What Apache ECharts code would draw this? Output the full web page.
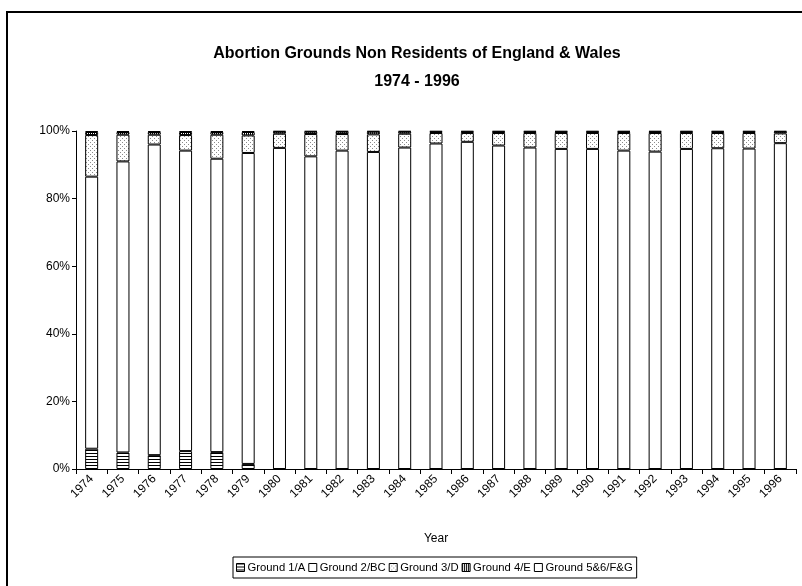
<!DOCTYPE html>
<html>
<head>
<meta charset="utf-8">
<script src="https://cdn.jsdelivr.net/npm/echarts@6/dist/echarts.min.js"></script>
<style>
  html, body { margin: 0; padding: 0; background: #fff; }
  #chart { width: 802px; height: 586px; }
</style>
</head>
<body>
<div id="chart"></div>
<script>
// data (% of each year)
var years = ['1974','1975','1976','1977','1978','1979','1980','1981','1982','1983','1984','1985',
             '1986','1987','1988','1989','1990','1991','1992','1993','1994','1995','1996'];
var ground1 = [6.0, 4.9, 4.1, 5.3, 5.0, 1.5, 0, 0, 0, 0, 0, 0, 0, 0, 0, 0, 0, 0, 0, 0, 0, 0, 0];
var ground2 = [80.5, 86.1, 91.9, 88.9, 86.8, 92.0, 95.0, 92.5, 94.2, 93.8, 95.1, 96.3,
               96.8, 95.7, 95.1, 94.7, 94.7, 94.2, 93.9, 94.7, 94.9, 94.8, 96.4];
var ground3 = [12.3, 7.9, 2.9, 4.6, 7.1, 5.2, 4.2, 6.6, 4.9, 5.2, 4.1, 3.1,
               2.6, 3.7, 4.3, 4.7, 4.7, 5.2, 5.5, 4.7, 4.5, 4.6, 2.9];
var ground4 = [0.9, 0.8, 0.8, 0.9, 0.8, 1.0, 0.6, 0.7, 0.7, 0.8, 0.6, 0.4,
               0.4, 0.4, 0.4, 0.4, 0.4, 0.4, 0.4, 0.4, 0.4, 0.4, 0.5];
var ground5 = [0.3, 0.3, 0.3, 0.3, 0.3, 0.3, 0.2, 0.2, 0.2, 0.2, 0.2, 0.2,
               0.2, 0.2, 0.2, 0.2, 0.2, 0.2, 0.2, 0.2, 0.2, 0.2, 0.2];
var yTicks = [0, 20, 40, 60, 80, 100];

// little fill patterns like the old excel ones
function makePattern(kind) {
    var c = document.createElement('canvas');
    c.width = 4;
    c.height = (kind == 'hlines') ? 3 : 4;
    var ctx = c.getContext('2d');
    ctx.fillStyle = '#fff';
    ctx.fillRect(0, 0, c.width, c.height);
    if (kind == 'hlines') {
        ctx.fillStyle = '#000';
        ctx.fillRect(0, 0, 4, 1);
    } else if (kind == 'dots') {
        ctx.fillStyle = '#8a8a8a';
        ctx.fillRect(0, 0, 1, 1);
        ctx.fillRect(2, 2, 1, 1);
    } else if (kind == 'vlines') {
        ctx.fillStyle = '#000';
        ctx.fillRect(0, 0, 1, 4);
        ctx.fillRect(2, 0, 1, 4);
    }
    return { image: c, repeat: 'repeat' };
}

var chart = echarts.init(document.getElementById('chart'));

var names = ['Ground 1/A', 'Ground 2/BC', 'Ground 3/D', 'Ground 4/E', 'Ground 5&6/F&G'];
var fills = [makePattern('hlines'), '#fff', makePattern('dots'), makePattern('vlines'), '#fff'];
var values = [ground1, ground2, ground3, ground4, ground5];

var series = names.map(function (n, i) {
    return {
        name: n,
        type: 'bar',
        stack: 'all',
        barWidth: 13,
        data: values[i],
        itemStyle: { color: fills[i], borderColor: '#000', borderWidth: 1 },
        emphasis: { disabled: true }
    };
});

var option = {
    animation: false,
    textStyle: { fontFamily: 'Liberation Sans', color: '#000' },
    title: {
        text: 'Abortion Grounds Non Residents of England & Wales\n1974 - 1996',
        left: 412,
        textAlign: 'center',
        top: 35,
        textStyle: { fontSize: 16, fontWeight: 'bold', color: '#000', lineHeight: 28, fontFamily: 'Liberation Sans' }
    },
    graphic: [{
        type: 'rect',
        shape: { x: 7, y: 12, width: 810, height: 590 },
        style: { fill: 'none', stroke: '#000', lineWidth: 2 },
        silent: true
    }],
    legend: {
        data: names,
        left: 233,
        top: 557,
        icon: 'rect',
        padding: [5, 4, 5, 3],
        itemWidth: 8,
        itemHeight: 8,
        itemGap: 3,
        borderColor: '#000',
        borderWidth: 1,
        itemStyle: { borderColor: '#000', borderWidth: 1 },
        textStyle: { fontSize: 11.3, color: '#000', padding: [0, 0, 0, -2] }
    },
    grid: { left: 76, right: 6, top: 131, bottom: 117, containLabel: false },
    xAxis: {
        type: 'category',
        data: years,
        name: 'Year',
        nameLocation: 'middle',
        nameGap: 64,
        nameTextStyle: { fontSize: 12, color: '#000' },
        axisLine: { lineStyle: { color: '#000', width: 1 } },
        axisTick: { show: true, length: 5, alignWithLabel: false, lineStyle: { color: '#000' } },
        axisLabel: { rotate: 45, interval: 0, margin: 8, fontSize: 12, color: '#000' }
    },
    yAxis: {
        type: 'value',
        min: yTicks[0],
        max: yTicks[yTicks.length - 1],
        interval: 20,
        axisLine: { show: true, lineStyle: { color: '#000', width: 1 } },
        axisTick: { show: true, length: 4, lineStyle: { color: '#000' } },
        axisLabel: { formatter: '{value}%', fontSize: 12, color: '#000', margin: 6 },
        splitLine: { show: false }
    },
    series: series
};

chart.setOption(option);
</script>
</body>
</html>
